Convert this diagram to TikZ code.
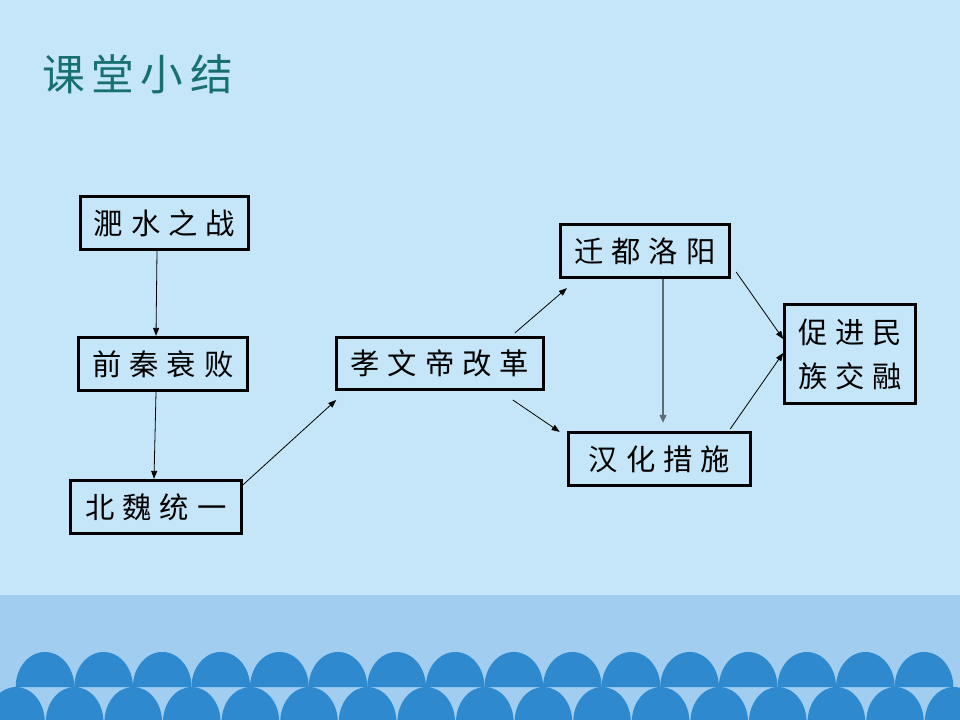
\documentclass[tikz,border=0pt]{standalone}
\usepackage{fontspec}
\newfontfamily\cjk{Noto Sans CJK SC}
\usetikzlibrary{arrows.meta,calc}
\definecolor{bgblue}{HTML}{C5E6F8}
\definecolor{bandblue}{HTML}{A0CDF0}
\definecolor{domeblue}{HTML}{2E89CE}
\definecolor{titleteal}{HTML}{17706E}
\definecolor{slate}{HTML}{5E6A78}
\newcommand\ksp{\hspace{6pt}}
\newcommand\tsp{\hspace{5pt}}
\tikzset{
  box/.style={draw=black, line width=2.2pt, inner sep=0pt, align=center,
    font=\cjk\fontsize{22pt}{33pt}\selectfont, text=black},
  arr/.style={-{Triangle[length=6pt,width=4.5pt]}, line width=0.6pt, black},
  garr/.style={-{Triangle[length=6pt,width=5pt]}, line width=1.4pt, slate},
}
\begin{document}
\begin{tikzpicture}[x=0.75pt,y=-0.75pt]
\useasboundingbox (0,0) rectangle (960,720);
\fill[bgblue] (0,0) rectangle (960,720);
\fill[bandblue] (0,595) rectangle (960,720);
\begin{scope}
\clip (0,0) rectangle (960,720);
\foreach \k in {0,...,15}{
  \fill[domeblue] ({45+58.6*\k-29.3},687) arc[start angle=180,end angle=360,x radius=29.3,y radius=35] -- cycle;
}
\foreach \k in {0,...,16}{
  \fill[domeblue] ({16+58.6*\k-28.8},730) -- ({16+58.6*\k-28.8},722) arc[start angle=180,end angle=360,x radius=28.8,y radius=35] -- ({16+58.6*\k+28.8},730) -- cycle;
}
\end{scope}
% title
\node[anchor=west, text=titleteal, font=\cjk\fontsize{32pt}{38pt}\selectfont, inner sep=0pt] (title) at (42,74) {课\tsp 堂\tsp 小\tsp 结};
% boxes
\node[box, minimum width=126pt, minimum height=40pt] (sf) at (164.5,223) {淝\ksp 水\ksp 之\ksp 战};
\node[box, minimum width=127pt, minimum height=40pt] (qq) at (163,364) {前\ksp 秦\ksp 衰\ksp 败};
\node[box, minimum width=128pt, minimum height=40pt] (bw) at (156,507) {北\ksp 魏\ksp 统\ksp 一};
\node[box, minimum width=155pt, minimum height=39pt] (xw) at (440,363.5) {孝\ksp 文\ksp 帝\ksp 改\ksp 革};
\node[box, minimum width=127pt, minimum height=40pt] (qd) at (645,251) {迁\ksp 都\ksp 洛\ksp 阳};
\node[box, minimum width=137pt, minimum height=40pt] (hh) at (659.5,459) {汉\ksp 化\ksp 措\ksp 施};
\node[box, minimum width=98pt, minimum height=74pt] (cj) at (850,354) {促\ksp 进\ksp 民\\族\ksp 交\ksp 融};
% connectors
\draw[arr] ($(sf.south)+(-7.5,0)$) -- ($(qq.north)+(-7,0)$);
\draw[arr] ($(qq.south)+(-7,0)$) -- ($(bw.north)+(-2,0)$);
\draw[arr] ($(bw.east)+(0,-22)$) -- ($(xw.south west)+(1,9)$);
\draw[arr] ($(xw.north east)+(-30,-3)$) -- ($(qd.south west)+(8,9)$);
\draw[arr] ($(xw.south east)+(-32,9)$) -- ($(hh.north west)+(-7,1)$);
\draw[garr] ($(qd.south)+(18,0)$) -- ($(hh.north)+(3.5,-8)$);
\draw[arr] ($(qd.east)+(5,21)$) -- ($(cj.west)+(0,-15)$);
\draw[arr] ($(hh.north east)+(-22,-2)$) -- ($(cj.west)+(0,-1)$);
\end{tikzpicture}
\end{document}
